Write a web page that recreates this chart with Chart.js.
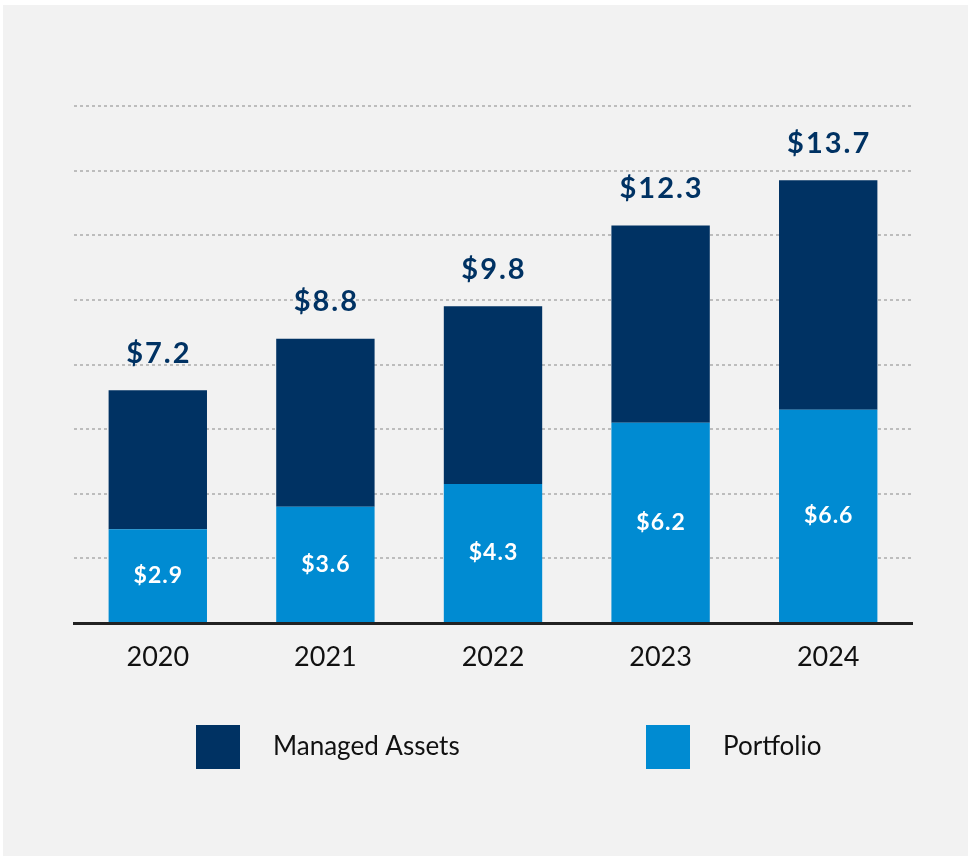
<!DOCTYPE html>
<html>
<head>
<meta charset="utf-8">
<script src="https://cdn.jsdelivr.net/npm/chart.js@4.4.1/dist/chart.umd.min.js"></script>
<style>
  html, body { margin: 0; padding: 0; background: #ffffff; }
  canvas { display: block; }
</style>
</head>
<body>
<canvas id="c" width="968" height="856"></canvas>
<script>
const categories = ['2020', '2021', '2022', '2023', '2024'];
const portfolio = [2.9, 3.6, 4.3, 6.2, 6.6];
const managedAssets = [4.3, 5.2, 5.5, 6.1, 7.1];
const seriesNames = ['Portfolio', 'Managed Assets'];
const yTicks = [0, 2, 4, 6, 8, 10, 12, 14, 16];

const NAVY = '#003263';
const BLUE = '#008bd2';
const FONT = 'Lato, "Open Sans", sans-serif';

const bgPlugin = {
  id: 'bg',
  beforeDraw(chart) {
    const ctx = chart.ctx;
    ctx.save();
    ctx.fillStyle = '#ffffff';
    ctx.fillRect(0, 0, chart.width, chart.height);
    ctx.fillStyle = '#f2f2f2';
    ctx.fillRect(3, 5, chart.width - 3, chart.height - 5);
    ctx.restore();
  }
};

function centeredText(ctx, text, x, y, spacing) {
  ctx.letterSpacing = spacing + 'px';
  const w = ctx.measureText(text).width - spacing;
  ctx.textAlign = 'left';
  ctx.fillText(text, x - w / 2, y);
  ctx.letterSpacing = '0px';
}

const labelPlugin = {
  id: 'labels',
  afterDatasetsDraw(chart) {
    const ctx = chart.ctx;
    const m0 = chart.getDatasetMeta(0);
    const m1 = chart.getDatasetMeta(1);
    ctx.save();
    ctx.textBaseline = 'middle';
    categories.forEach((c, i) => {
      const b0 = m0.data[i];
      const b1 = m1.data[i];
      const total = portfolio[i] + managedAssets[i];
      ctx.fillStyle = NAVY;
      ctx.font = 'bold 29px ' + FONT;
      centeredText(ctx, '$' + total.toFixed(1), b1.x, b1.y - 37, 2);
      ctx.fillStyle = '#ffffff';
      ctx.font = 'bold 23px ' + FONT;
      centeredText(ctx, '$' + portfolio[i].toFixed(1), b0.x, (b0.y + b0.base) / 2, 1);
    });
    ctx.restore();
  }
};

const legendPlugin = {
  id: 'customLegend',
  afterDraw(chart) {
    const ctx = chart.ctx;
    const items = [
      { ds: chart.data.datasets[1], x: 196 },
      { ds: chart.data.datasets[0], x: 646 }
    ];
    const y = 725;
    ctx.save();
    ctx.font = '26px ' + FONT;
    ctx.textBaseline = 'middle';
    ctx.textAlign = 'left';
    items.forEach(it => {
      ctx.fillStyle = it.ds.backgroundColor;
      ctx.fillRect(it.x, y, 44, 44);
      ctx.fillStyle = '#111111';
      ctx.fillText(it.ds.label, it.x + 77, y + 22);
    });
    ctx.restore();
  }
};

new Chart(document.getElementById('c'), {
  type: 'bar',
  data: {
    labels: categories,
    datasets: [
      { label: seriesNames[0], data: portfolio, backgroundColor: BLUE, borderWidth: 0 },
      { label: seriesNames[1], data: managedAssets, backgroundColor: NAVY, borderWidth: 0 }
    ]
  },
  options: {
    responsive: false,
    animation: false,
    layout: { padding: { left: 74, right: 56, top: 106, bottom: 0 } },
    datasets: { bar: { categoryPercentage: 1, barPercentage: 0.587 } },
    plugins: { legend: { display: false }, tooltip: { enabled: false } },
    scales: {
      x: {
        stacked: true,
        grid: { display: false, drawTicks: false },
        border: { display: true, color: '#222222', width: 3 },
        ticks: { color: '#111111', font: { family: FONT, size: 27 }, padding: 18 },
        afterFit(s) { s.height = 233; }
      },
      y: {
        stacked: true,
        min: 0,
        max: 16,
        afterBuildTicks(s) { s.ticks = yTicks.map(v => ({ value: v })); },
        ticks: { display: false },
        grid: {
          drawTicks: false,
          lineWidth: 2,
          color: ctx => ctx.tick && ctx.tick.value === 0 ? 'rgba(0,0,0,0)' : '#bdbdbd'
        },
        border: { display: false, dash: [3, 3] },
        afterFit(s) { s.width = 0; }
      }
    }
  },
  plugins: [bgPlugin, labelPlugin, legendPlugin]
});
</script>
</body>
</html>
